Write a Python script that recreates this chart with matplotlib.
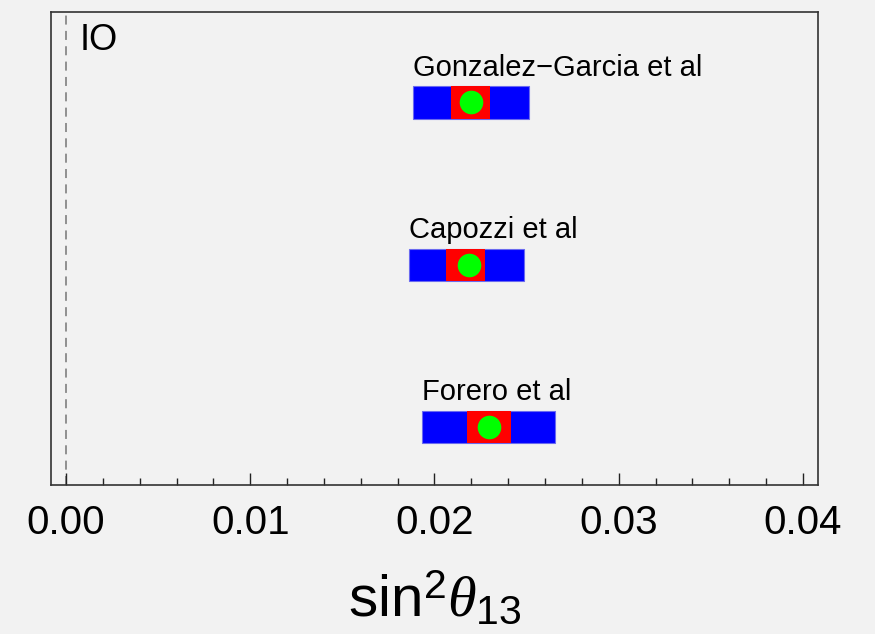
import numpy as np
import matplotlib
matplotlib.use('Agg')
import matplotlib.pyplot as plt
from matplotlib.ticker import MultipleLocator

plt.rcParams['font.family'] = ['Liberation Sans', 'DejaVu Sans']
plt.rcParams['mathtext.fontset'] = 'custom'
plt.rcParams['mathtext.rm'] = 'Liberation Sans'
plt.rcParams['mathtext.it'] = 'Liberation Serif:italic'

# Datos (sin^2 theta_13, ordenamiento inverso)
grupos = ['Forero et al', 'Capozzi et al', 'Gonzalez\u2212Garcia et al']
centro = [0.02297, 0.02186, 0.02196]
rojo_min = [0.02174, 0.02063, 0.02092]
rojo_max = [0.02413, 0.02273, 0.02304]
azul_min = [0.01933, 0.01864, 0.01882]
azul_max = [0.02654, 0.02485, 0.02511]

fondo = '#f2f2f2'
fig = plt.figure(figsize=(8.75, 6.34), dpi=100, facecolor=fondo)
ax = fig.add_axes([0.0583, 0.2350, 0.8766, 0.7453])
ax.set_facecolor(fondo)

h = 0.2
for i, g in enumerate(grupos):
    ax.barh(i, azul_max[i] - azul_min[i], left=azul_min[i], height=h,
            color='#0000ff', edgecolor='#6a6af0', linewidth=0.8, zorder=2)
    ax.barh(i, rojo_max[i] - rojo_min[i], left=rojo_min[i], height=h,
            color='#ff0000', linewidth=0, zorder=3)
    ax.plot(centro[i], i, 'o', color='#00ff00', markersize=17,
            markeredgewidth=0, zorder=4)
    ax.text(azul_min[i], i + h / 2 + 0.065, g, fontsize=21,
            ha='left', va='baseline', zorder=5)

ax.axvline(0, color='#888888', linestyle=(0, (5, 3.5)), linewidth=1.3, zorder=1)
ax.text(0.00075, 2.38, 'IO', fontsize=26, ha='left', va='center')

ax.set_xlim(-0.000815, 0.04082)
ax.set_ylim(-0.357, 2.554)
ax.xaxis.set_major_locator(MultipleLocator(0.01))
ax.xaxis.set_minor_locator(MultipleLocator(0.002))
ax.set_xticks([0, 0.01, 0.02, 0.03, 0.04])
ax.set_xticklabels(['0.00', '0.01', '0.02', '0.03', '0.04'])
ax.tick_params(axis='x', which='major', direction='in', length=9, width=1,
               labelsize=29, pad=14, color='#222222')
ax.tick_params(axis='x', which='minor', direction='in', length=5, width=1,
               color='#222222')
ax.set_yticks([])
for s in ax.spines.values():
    s.set_color('#333333')
    s.set_linewidth(1.2)

ax.set_xlabel(r'$\mathrm{sin}^{2}\theta_{13}$', fontsize=42, labelpad=20)

fig.savefig('out.png', dpi=100, facecolor=fondo)
